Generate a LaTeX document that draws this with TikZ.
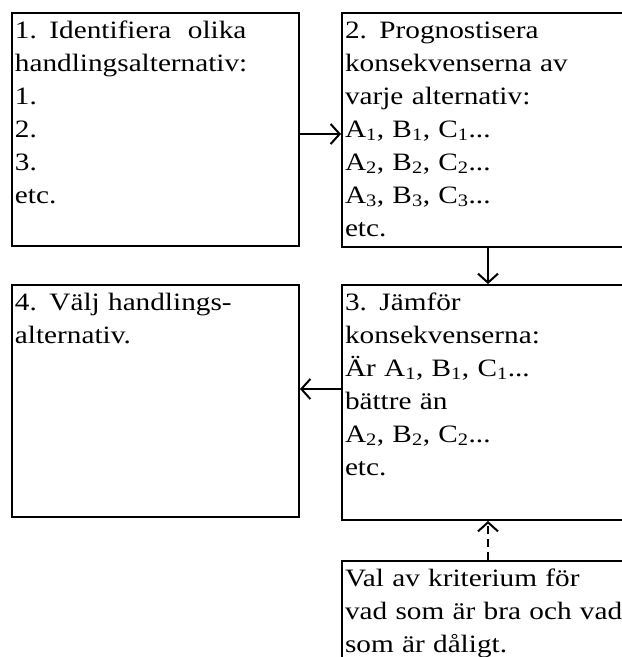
\documentclass[tikz,border=0pt]{standalone}
\usepackage{fontspec}
\setmainfont{Liberation Serif}[FakeStretch=1.17]
\usetikzlibrary{arrows.meta}

\tikzset{
  stegbox/.style={draw, line width=2pt, anchor=north west, align=left,
    inner xsep=3pt, inner ysep=3pt, text height=22pt,
    font=\fontsize{25}{33}\selectfont},
  pil/.style={line width=2pt, -{Straight Barb[length=9pt,width=20pt]}},
}
\newcommand{\sub}[1]{\textsubscript{#1}}

\begin{document}
\begin{tikzpicture}[x=1pt,y=-1pt]
\useasboundingbox (0,0) rectangle (622,657);
\clip (0,0) rectangle (622,657);

% de fem stegen
\node[stegbox, text width=281pt, text depth=205pt] (b1) at (11,12)
  {1. Identifiera\ \ olika\\handlingsalternativ:\\1.\\2.\\3.\\etc.};
\node[stegbox, text width=303pt, text depth=206pt] (b2) at (341,12)
  {2. Prognostisera\\konsekvenserna av\\varje alternativ:\\
   A\sub{1}, B\sub{1}, C\sub{1}...\\A\sub{2}, B\sub{2}, C\sub{2}...\\
   A\sub{3}, B\sub{3}, C\sub{3}...\\etc.};
\node[stegbox, text width=303pt, text depth=207pt] (b3) at (341,284)
  {3. Jämför\\konsekvenserna:\\Är A\sub{1}, B\sub{1}, C\sub{1}...\\
   bättre än\\A\sub{2}, B\sub{2}, C\sub{2}...\\etc.};
\node[stegbox, text width=281pt, text depth=204pt] (b4) at (11,284)
  {4. Välj handlings-\\alternativ.};
\node[stegbox, text width=303pt, text depth=112pt] (b5) at (341,560)
  {Val av kriterium för\\vad som är bra och vad\\som är dåligt.};

% pilar
\draw[pil] ([yshift=-4.5pt]b1.east) -- ([yshift=-4.5pt]b1.east -| b2.west);
\draw[pil] ([xshift=147pt]b2.south west) -- ([xshift=147pt]b3.north west);
\draw[pil] ([yshift=13.5pt]b3.west) -- ([yshift=13.5pt]b3.west -| b4.east);
\draw[pil, dash pattern=on 8pt off 5pt] ([xshift=147pt]b5.north west) -- ([xshift=147pt]b3.south west);
\end{tikzpicture}
\end{document}
